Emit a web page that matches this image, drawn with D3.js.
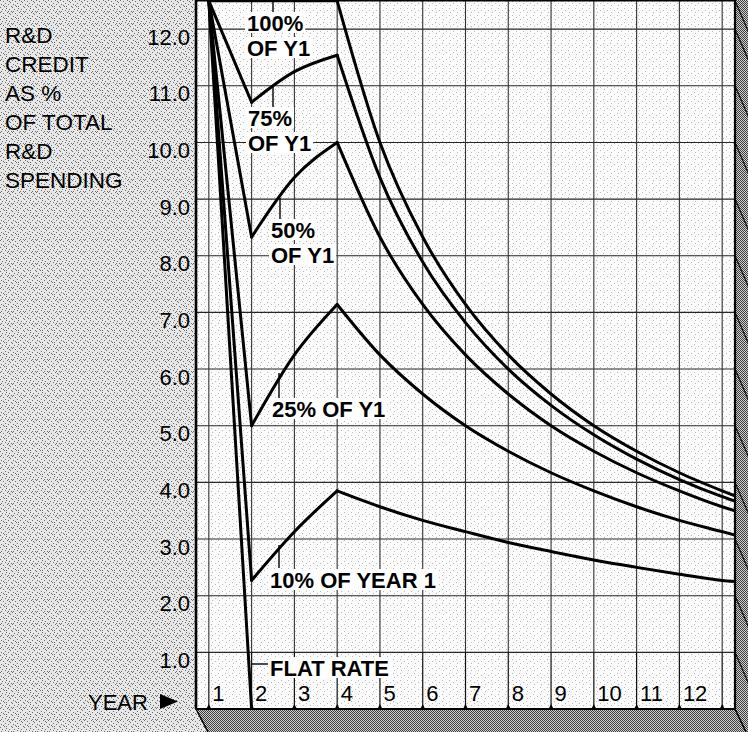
<!DOCTYPE html>
<html>
<head>
<meta charset="utf-8">
<script src="https://cdn.jsdelivr.net/npm/d3@7/dist/d3.min.js"></script>
<style>
  html, body { margin: 0; padding: 0; background: #fff; }
  svg { display: block; }
  text { font-family: "Liberation Sans", Arial, Helvetica, sans-serif; fill: #000; }
</style>
</head>
<body>
<svg id="chart" width="748" height="732"></svg>
<script>
// ---- data -------------------------------------------------------------
// Points are placed at the start of each year; the last point is where each
// curve meets the right edge of the grid.
const yearPoints = [1, 2, 3, 4, 5, 6, 7, 8, 9, 10, 11, 12, 13, 13.3];
const yearLabels = ["1", "2", "3", "4", "5", "6", "7", "8", "9", "10", "11", "12"];
const yTicks = [1, 2, 3, 4, 5, 6, 7, 8, 9, 10, 11, 12];
const yTickLabels = ["1.0", "2.0", "3.0", "4.0", "5.0", "6.0", "7.0", "8.0", "9.0", "10.0", "11.0", "12.0"];

// credit as % of total R&D spending, by year
const growth100 = [12.5, 12.5, 12.5, 12.5, 10.0, 8.33, 7.14, 6.25, 5.56, 5.00, 4.55, 4.17, 3.85, 3.76];
const growth75  = [12.5, 10.71, 11.25, 11.54, 9.38, 7.89, 6.82, 6.00, 5.36, 4.84, 4.41, 4.05, 3.75, 3.67];
const growth50  = [12.5, 8.33, 9.38, 10.0, 8.33, 7.14, 6.25, 5.56, 5.00, 4.55, 4.17, 3.85, 3.57, 3.50];
const growth25  = [12.5, 5.00, 6.25, 7.14, 6.25, 5.56, 5.00, 4.55, 4.17, 3.85, 3.57, 3.33, 3.13, 3.07];
const growth10  = [12.5, 2.27, 3.13, 3.85, 3.57, 3.33, 3.13, 2.94, 2.78, 2.63, 2.50, 2.38, 2.27, 2.25];
const flatRate  = [12.5, 0];

const seriesList = [growth100, growth75, growth50, growth25, growth10, flatRate];

// curve annotations
const annotations = [
  { lines: ["100%", "OF Y1"], x: 247, baselines: [31, 56], leader: [273, 1, 13] },
  { lines: ["75%", "OF Y1"], x: 248, baselines: [126, 151], leader: [273, 87, 107] },
  { lines: ["50%", "OF Y1"], x: 271, baselines: [238, 263], leader: [280, 198, 220] },
  { lines: ["25% OF Y1"], x: 272, baselines: [417], leader: [279, 373, 398] },
  { lines: ["10% OF YEAR 1"], x: 270, baselines: [588], leader: [279, 545, 568] },
  { lines: ["FLAT RATE"], x: 270, baselines: [676], hleader: [252, 268, 664] }
];
const axisTitle = ["R&D", "CREDIT", "AS %", "OF TOTAL", "R&D", "SPENDING"];

// ---- scales -----------------------------------------------------------
const x = d3.scaleLinear().domain([0.7, 13.3]).range([196, 735]);
const y = d3.scaleLinear().domain([0, 12.5]).range([709, 0.8]);
const [X0, X1] = x.range();
const Y0 = 0, Y1 = y(0);

const svg = d3.select("#chart");
const defs = svg.append("defs");

// halftone screens
function screen(id, size, base, ink, dots) {
  const p = defs.append("pattern").attr("id", id)
    .attr("width", size).attr("height", size).attr("patternUnits", "userSpaceOnUse");
  p.append("rect").attr("width", size).attr("height", size).attr("fill", base);
  dots.forEach(([a, b]) => p.append("rect").attr("x", a).attr("y", b)
    .attr("width", 1).attr("height", 1).attr("fill", ink));
}
screen("paper", 12, "#e8e8e8", "#6a6a6a",
  [[0, 0], [7, 0], [3, 1], [10, 2], [5, 3], [1, 4], [8, 4], [11, 6], [4, 6], [0, 7],
   [6, 8], [9, 9], [2, 9], [5, 10], [11, 11], [8, 11], [1, 11], [3, 5], [9, 1], [6, 6]]);
screen("sheet", 7, "#fcfcfc", "#b8b8b8", [[1, 1], [5, 3], [2, 5]]);
screen("shade", 2, "#d2d2d2", "#3c3c3c", [[0, 0], [1, 1]]);

defs.append("clipPath").attr("id", "plotClip")
  .append("rect").attr("x", X0).attr("y", -5).attr("width", X1 - X0).attr("height", Y1 + 5);

const sideFace = [[X1, Y0], [748, Y0], [748, 732], [746, 732], [X1, Y1]];
defs.append("clipPath").attr("id", "sideClip")
  .append("polygon").attr("points", sideFace.map(p => p.join(",")).join(" "));

// ---- background and box faces -----------------------------------------
svg.append("rect").attr("width", 748).attr("height", 732).attr("fill", "url(#paper)");
svg.append("rect").attr("x", X0).attr("y", Y0).attr("width", X1 - X0).attr("height", Y1 - Y0)
  .attr("fill", "url(#sheet)");

svg.append("polygon").attr("points", [[X0, Y1], [X1, Y1], [746, 732], [208, 732]].map(p => p.join(",")).join(" "))
  .attr("fill", "url(#shade)");
svg.append("polygon").attr("points", sideFace.map(p => p.join(",")).join(" "))
  .attr("fill", "url(#shade)");

// grid lines carried round onto the side face
svg.append("g").attr("clip-path", "url(#sideClip)")
  .selectAll("line").data(yTicks.concat([12.5])).join("line")
  .attr("x1", X1).attr("x2", 760)
  .attr("y1", d => y(d)).attr("y2", d => y(d) + 30 * 25 / 13)
  .attr("stroke", "#111").attr("stroke-width", 1.2);

// ---- grid ---------------------------------------------------------------
const grid = svg.append("g");
grid.selectAll("line.h").data(yTicks).join("line").attr("class", "h")
  .attr("x1", X0).attr("x2", X1).attr("y1", d => y(d)).attr("y2", d => y(d))
  .attr("stroke", "#262626").attr("stroke-width", 1.1);
const yearEdges = d3.range(1, 14);
grid.selectAll("line.v").data(yearEdges).join("line").attr("class", "v")
  .attr("x1", d => x(d)).attr("x2", d => x(d)).attr("y1", Y0).attr("y2", y(1))
  .attr("stroke", "#333").attr("stroke-width", 1.1);
grid.selectAll("line.vl").data(yearEdges).join("line").attr("class", "vl")
  .attr("x1", d => x(d)).attr("x2", d => x(d)).attr("y1", y(1)).attr("y2", Y1)
  .attr("stroke", "#111").attr("stroke-width", 1.2);
grid.selectAll("path.foot").data(yearEdges).join("path").attr("class", "foot")
  .attr("d", d => `M${x(d) - 2.5},${Y1} L${x(d)},${Y1 - 5} L${x(d) + 2.5},${Y1} Z`)
  .attr("fill", "#000");

// ---- curves -------------------------------------------------------------
// Each curve: a straight drop from year 1 to year 2, a smooth run up to
// year 4, then a smooth decline to the edge.
const curves = svg.append("g").attr("clip-path", "url(#plotClip)");
const lineGen = d3.line().x(d => x(d[0])).y(d => y(d[1]));
seriesList.forEach(vals => {
  const pts = vals.map((v, i) => [yearPoints[i], v]);
  const pieces = [pts.slice(0, 2), pts.slice(1, 4), pts.slice(3)].filter(p => p.length > 1);
  pieces.forEach((piece, k) => {
    curves.append("path")
      .attr("d", lineGen.curve(k === 0 ? d3.curveLinear : d3.curveMonotoneX)(piece))
      .attr("fill", "none").attr("stroke", "#000").attr("stroke-width", 3)
      .attr("stroke-linecap", "round").attr("stroke-linejoin", "round");
  });
});

// ---- annotations --------------------------------------------------------
const notes = svg.append("g");
annotations.forEach(a => {
  if (a.leader) {
    notes.append("line").attr("x1", a.leader[0]).attr("x2", a.leader[0])
      .attr("y1", a.leader[1]).attr("y2", a.leader[2]).attr("stroke", "#000").attr("stroke-width", 1.4);
  }
  if (a.hleader) {
    notes.append("line").attr("x1", a.hleader[0]).attr("x2", a.hleader[1])
      .attr("y1", a.hleader[2]).attr("y2", a.hleader[2]).attr("stroke", "#000").attr("stroke-width", 1.4);
  }
  const bgs = a.lines.map(() => notes.append("rect").attr("fill", "#fff"));
  const tx = notes.append("text").attr("font-size", 22).attr("font-weight", "bold");
  const spans = a.lines.map((t, i) => tx.append("tspan")
    .attr("x", a.x).attr("y", a.baselines[i]).text(t));
  spans.forEach((s, i) => {
    const w = s.node().getComputedTextLength();
    bgs[i].attr("x", a.x - 2).attr("y", a.baselines[i] - 19).attr("width", w + 4).attr("height", 21);
  });
});

// ---- frame ----------------------------------------------------------------
svg.append("line").attr("x1", X0).attr("x2", X1).attr("y1", 0.8).attr("y2", 0.8)
  .attr("stroke", "#000").attr("stroke-width", 1.6);
svg.append("line").attr("x1", X0).attr("x2", X1).attr("y1", Y1).attr("y2", Y1)
  .attr("stroke", "#000").attr("stroke-width", 2);
svg.append("line").attr("x1", X0).attr("x2", X0).attr("y1", Y0).attr("y2", Y1)
  .attr("stroke", "#000").attr("stroke-width", 2.6);
svg.append("line").attr("x1", X1).attr("x2", X1).attr("y1", Y0).attr("y2", Y1)
  .attr("stroke", "#000").attr("stroke-width", 2.2);
svg.append("line").attr("x1", X0).attr("x2", 208).attr("y1", Y1).attr("y2", 732)
  .attr("stroke", "#000").attr("stroke-width", 1.5);
svg.append("line").attr("x1", X1).attr("x2", 746).attr("y1", Y1).attr("y2", 732)
  .attr("stroke", "#000").attr("stroke-width", 1.5);

// ---- axes -----------------------------------------------------------------
const yAxis = svg.append("g").attr("transform", "translate(190,0)")
  .call(d3.axisLeft(y).tickValues(yTicks).tickSize(0).tickPadding(0)
    .tickFormat((d, i) => yTickLabels[i]));
yAxis.select(".domain").remove();
yAxis.selectAll("text").attr("dy", 0).attr("y", 15)
  .attr("font-size", 22).attr("font-family", "Liberation Sans, Arial, sans-serif").attr("fill", "#000");

const xAxis = svg.append("g").attr("transform", "translate(0,701)")
  .call(d3.axisBottom(x).tickValues(d3.range(1, 13)).tickSize(0).tickPadding(0)
    .tickFormat((d, i) => yearLabels[i]));
xAxis.select(".domain").remove();
xAxis.selectAll("text").attr("dy", 0).attr("y", 0).attr("x", 3).attr("text-anchor", "start")
  .attr("font-size", 22).attr("font-family", "Liberation Sans, Arial, sans-serif").attr("fill", "#000");

// axis titles
svg.append("g").selectAll("text").data(axisTitle).join("text")
  .attr("x", 5).attr("y", (d, i) => 43 + i * 29)
  .attr("font-size", 22.5).text(d => d);
svg.append("text").attr("x", 88).attr("y", 710).attr("font-size", 22).text("YEAR");
svg.append("path").attr("d", "M160,694 L178,701.5 L160,709 Z").attr("fill", "#000");
</script>
</body>
</html>
